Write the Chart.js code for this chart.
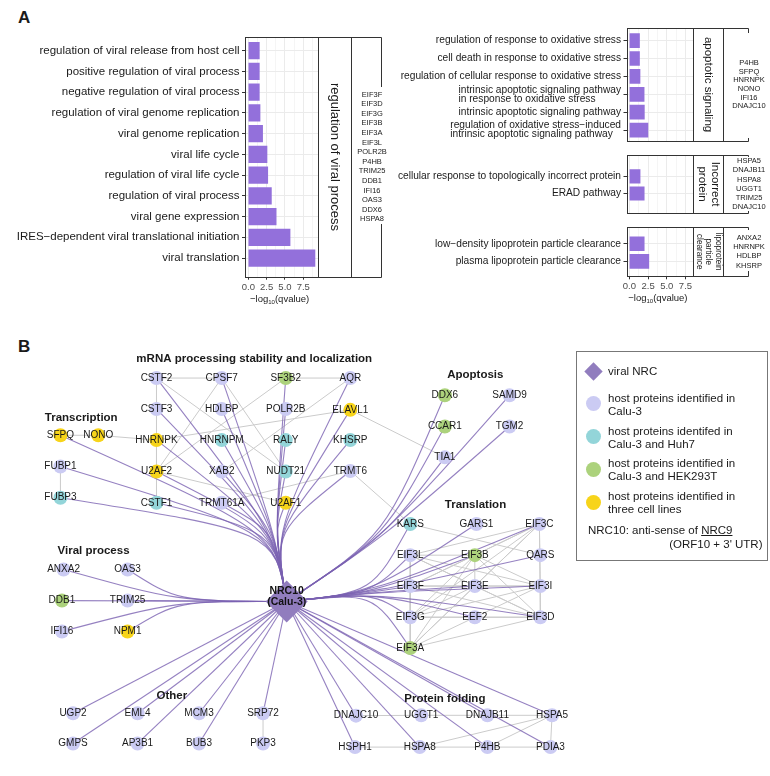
<!DOCTYPE html>
<html><head><meta charset="utf-8">
<script src="https://cdn.jsdelivr.net/npm/chart.js@4/dist/chart.umd.min.js"></script>
<style>
html,body{margin:0;padding:0;background:#fff;}
body{width:770px;height:776px;position:relative;overflow:hidden;font-family:'Liberation Sans',Arial,Helvetica,sans-serif;color:#1a1a1a;}
canvas{position:absolute;}
.plab{position:absolute;font-weight:bold;font-size:17px;line-height:17px;}
#legend{position:absolute;left:576px;top:351px;width:192px;height:210px;border:1px solid #777;box-sizing:border-box;font-size:11.5px;}
#legend .t{position:absolute;line-height:13.3px;white-space:nowrap;}
#legend .c{position:absolute;width:15px;height:15px;border-radius:50%;}
#legend .d{position:absolute;width:13px;height:13px;transform:rotate(45deg);}
</style></head>
<body>
<div class="plab" style="left:18px;top:9px">A</div>
<div class="plab" style="left:18px;top:337.5px">B</div>
<div id="legend">
  <div class="d" style="left:10px;top:13px;background:#917dbe"></div>
  <div class="t" style="left:31px;top:13px">viral NRC</div>
  <div class="c" style="left:9px;top:44px;background:#cbcbf3"></div>
  <div class="t" style="left:31px;top:39.5px">host proteins identified in<br>Calu-3</div>
  <div class="c" style="left:9px;top:77px;background:#93d5d9"></div>
  <div class="t" style="left:31px;top:72.5px">host proteins identifed in<br>Calu-3 and Huh7</div>
  <div class="c" style="left:9px;top:110px;background:#acd27c"></div>
  <div class="t" style="left:31px;top:105px">host proteins identified in<br>Calu-3 and HEK293T</div>
  <div class="c" style="left:9px;top:142.5px;background:#f7d41a"></div>
  <div class="t" style="left:31px;top:137.5px">host proteins identified in<br>three cell lines</div>
  <div class="t" style="left:11px;top:171.5px">NRC10: anti-sense of <u>NRC9</u></div>
  <div class="t" style="right:4.5px;top:186px">(ORF10 + 3' UTR)</div>
</div>
<script>
// ---------------- Panel A data ----------------
const viralTerms = ["regulation of viral release from host cell","positive regulation of viral process","negative regulation of viral process","regulation of viral genome replication","viral genome replication","viral life cycle","regulation of viral life cycle","regulation of viral process","viral gene expression","IRES\u2212dependent viral translational initiation","viral translation"];
const viralValues = [1.5,1.5,1.5,1.6,1.95,2.55,2.65,3.15,3.8,5.7,9.1];
const viralGenes = ["EIF3F","EIF3D","EIF3G","EIF3B","EIF3A","EIF3L","POLR2B","P4HB","TRIM25","DDB1","IFI16","OAS3","DDX6","HSPA8"];

const apoTerms = ["regulation of response to oxidative stress","cell death in response to oxidative stress","regulation of cellular response to oxidative stress","intrinsic apoptotic signaling pathway\nin response to oxidative stress","intrinsic apoptotic signaling pathway","regulation of oxidative stress\u2212induced\nintrinsic apoptotic signaling pathway"];
const apoValues = [1.35,1.35,1.42,1.97,2.0,2.48];
const apoGenes = ["P4HB","SFPQ","HNRNPK","NONO","IFI16","DNAJC10"];

const incTerms = ["cellular response to topologically incorrect protein","ERAD pathway"];
const incValues = [1.43,1.98];
const incGenes = ["HSPA5","DNAJB11","HSPA8","UGGT1","TRIM25","DNAJC10"];

const lipoTerms = ["low\u2212density lipoprotein particle clearance","plasma lipoprotein particle clearance"];
const lipoValues = [1.98,2.6];
const lipoGenes = ["ANXA2","HNRNPK","HDLBP","KHSRP"];

const stripLabels = ["regulation of viral process","apoptotic signaling","Incorrect\nprotein","lipoprotein\nparticle\nclearance"];
const xTickValues = [0,2.5,5,7.5];
const xMinorValues = [1.25,3.75,6.25,8.75];

// ---------------- Panel B data ----------------
const nodeNames = ["CSTF2","CPSF7","SF3B2","AQR","CSTF3","HDLBP","POLR2B","ELAVL1","HNRNPK","HNRNPM","RALY","KHSRP","U2AF2","XAB2","NUDT21","TRMT6","CSTF1","TRMT61A","U2AF1",
 "SFPQ","NONO","FUBP1","FUBP3",
 "DDX6","SAMD9","CCAR1","TGM2","TIA1",
 "KARS","GARS1","EIF3C","EIF3L","EIF3B","QARS","EIF3F","EIF3E","EIF3I","EIF3G","EEF2","EIF3D","EIF3A",
 "ANXA2","OAS3","DDB1","TRIM25","IFI16","NPM1",
 "UGP2","EML4","MCM3","SRP72","GMPS","AP3B1","BUB3","PKP3",
 "DNAJC10","UGGT1","DNAJB11","HSPA5","HSPH1","HSPA8","P4HB","PDIA3"];
// layout positions (network layout units)
const nodeX = [143.3,212.3,280,348.3,143.3,212.3,280,348.3,143.3,212.3,280,348.3,143.3,212.3,280,348.3,143.3,212.3,280,
 41.7,81.7,41.7,41.7,
 448.3,516.7,448.3,516.7,448.3,
 411.7,481.7,548.3,411.7,480,549.3,411.7,480,549.3,411.7,480,549.3,411.7,
 45,112.7,43.3,112.7,43.3,112.7,
 55,123.3,188.3,256,55,123.3,188.3,256,
 354.3,423.3,493.3,561.7,353.3,421.7,493.3,560];
const nodeY = [361,361,361,361,395,395,395,396,429.3,429.3,429.3,429.3,464,464,464,463.3,498.3,498.3,498.3,
 424,424,458.3,492.7,
 380,380,414.3,414.3,448.3,
 521.7,521.7,521.7,556,556,556,590,590,590,624.3,624.3,624.3,658.3,
 571.7,571.7,606,606,640,640,
 730,730,730,730,763.3,763.3,763.3,763.3,
 732.7,732.3,732.3,732.3,767.3,767.3,767.3,767.3];
// 1 = Calu-3, 2 = Calu-3 & Huh7, 3 = Calu-3 & HEK293T, 4 = three cell lines
const nodeCells = [1,1,3,1,1,1,1,4,4,2,2,2,4,1,2,1,2,1,4,
 4,4,1,2,
 3,1,3,1,1,
 2,1,1,1,3,1,1,1,1,1,1,1,3,
 1,1,3,1,1,4,
 1,1,1,1,1,1,1,1,
 1,1,1,1,1,1,1,1];
const nodeGroup = ["M","M","M","M","M","M","M","M","M","M","M","M","M","M","M","M","M","M","M",
 "T","T","T","T",
 "A","A","A","A","A",
 "L","L","L","L","L","L","L","L","L","L","L","L","L",
 "V","V","V","V","V","V",
 "O","O","O","O","O","O","O","O",
 "F","F","F","F","F","F","F","F"];
const nodeBound = [1,1,1,1,1,1,1,1,1,1,1,1,1,1,1,1,1,1,1,
 1,0,1,1,
 1,1,1,1,1,
 1,1,1,1,1,1,1,1,1,1,1,1,1,
 1,1,1,1,1,1,
 1,1,1,1,1,1,1,0,
 1,1,1,1,1,1,1,1];
const nrcName = ["NRC10","(Calu-3)"];
const nrcPos = [281,607];
const ppiEdges = [["CSTF2","CPSF7"],["SF3B2","AQR"],["CSTF2","CSTF3"],["CSTF3","CSTF1"],["HNRNPK","U2AF2"],
 ["CSTF2","NUDT21"],["CPSF7","NUDT21"],["CPSF7","U2AF2"],["SF3B2","U2AF2"],["AQR","XAB2"],["ELAVL1","HNRNPK"],
 ["ELAVL1","TIA1"],["SFPQ","NONO"],["NONO","HNRNPK"],["FUBP1","FUBP3"],["U2AF2","U2AF1"],["TRMT61A","TRMT6"],["TRMT6","KARS"],
 ["KARS","QARS"],["EIF3G","EEF2"],["EEF2","EIF3D"],
 ["DNAJC10","UGGT1"],["UGGT1","DNAJB11"],["DNAJB11","HSPA5"],["HSPA5","PDIA3"],["HSPH1","HSPA8"],["HSPA8","P4HB"],["P4HB","PDIA3"],["HSPA8","HSPA5"],["P4HB","HSPA5"],
 ["SRP72","PKP3"]];
const eif3Complex = ["EIF3C","EIF3L","EIF3B","EIF3F","EIF3E","EIF3I","EIF3G","EIF3D","EIF3A"];
const clusterTitles = ["mRNA processing stability and localization","Transcription","Apoptosis","Translation","Viral process","Other","Protein folding"];
const clusterTitleX = [246.7,63.7,480.5,480.7,76.7,159.5,448.3];
const clusterTitleY = [339.3,404.3,357.3,500.7,550.7,711,714.3];
const bundleHubs = {M:[268,530],T:[268,530],A:[385,535],L:[372,597],V:[165,606.5]};

// ---------------- helpers ----------------
const FONT = "'Liberation Sans', Arial, Helvetica, sans-serif";
Chart.defaults.font.family = FONT;
const BAR = '#9370DB';
const cellColors = {1:'#cbcbf3',2:'#93d5d9',3:'#acd27c',4:'#f7d41a'};

function crisp(v){return Math.round(v)+0.5;}

function makeFacet(cfg){
  const [cx,cy,cw,ch] = cfg.box;
  const [L,T,R,B] = cfg.area;
  const cv = document.createElement('canvas');
  cv.width = cw; cv.height = ch;
  cv.style.left = cx+'px'; cv.style.top = cy+'px';
  document.body.appendChild(cv);
  const gridVals = xTickValues.concat(xMinorValues).filter(v=>v<=cfg.xMax).sort((a,b)=>a-b);
  const isMajor = v => xTickValues.includes(v);
  const plugin = {
    id:'facet'+cfg.id,
    afterDraw(chart){
      const ctx = chart.ctx, a = chart.chartArea, ys = chart.scales.y;
      ctx.save();
      ctx.strokeStyle = '#333'; ctx.lineWidth = 1;
      const l = crisp(a.left), t = crisp(a.top), r = crisp(a.right), b = crisp(a.bottom);
      ctx.strokeRect(l, t, r-l, b-t);
      ctx.fillStyle = '#1a1a1a'; ctx.textBaseline = 'middle'; ctx.textAlign = 'left';
      ctx.font = cfg.labelFont+'px '+FONT;
      cfg.terms.forEach((term,i)=>{
        const lines = term.split('\n');
        const y = ys.getPixelForValue(i);
        const w = Math.max(...lines.map(s=>ctx.measureText(s).width));
        const x0 = a.left - 5.5 - w;
        lines.forEach((s,k)=>ctx.fillText(s, x0, y + (k-(lines.length-1)/2)*cfg.labelLH));
      });
      const sx = r, sw = Math.round(cfg.stripW), gx = sx+sw, gw = Math.round(cfg.geneW);
      ctx.strokeRect(sx, t, sw, b-t);
      ctx.beginPath();
      ctx.moveTo(gx, t); ctx.lineTo(gx+gw, t); ctx.lineTo(gx+gw, cfg.hide[0]-cy);
      ctx.moveTo(gx+gw, cfg.hide[1]-cy); ctx.lineTo(gx+gw, b); ctx.lineTo(gx, b);
      ctx.stroke();
      ctx.save();
      ctx.translate(sx+sw/2, (a.top+a.bottom)/2);
      ctx.rotate(Math.PI/2);
      ctx.font = cfg.stripFont+'px '+FONT; ctx.textAlign='center'; ctx.textBaseline='middle';
      const sl = cfg.strip.split('\n');
      sl.forEach((s,k)=>ctx.fillText(s, 0, (k-(sl.length-1)/2)*cfg.stripLH));
      ctx.restore();
      ctx.font = cfg.geneFont+'px '+FONT; ctx.textAlign='center';
      const gc = (a.top+a.bottom)/2;
      cfg.genes.forEach((g,k)=>ctx.fillText(g, cfg.geneX - cx, gc + (k-(cfg.genes.length-1)/2)*cfg.geneLH));
      if(cfg.showX){
        const yT = cfg.titleY - cy;
        const p1 = '\u2212log', p2 = '10', p3 = '(qvalue)';
        ctx.font = '9.5px '+FONT; const w1 = ctx.measureText(p1).width, w3 = ctx.measureText(p3).width;
        ctx.font = '6px '+FONT; const w2 = ctx.measureText(p2).width;
        let x = (a.left+a.right)/2 - (w1+w2+w3)/2 - 2;
        ctx.textAlign='left'; ctx.fillStyle='#1a1a1a';
        ctx.font = '9.5px '+FONT; ctx.fillText(p1, x, yT); x += w1;
        ctx.font = '6px '+FONT; ctx.fillText(p2, x, yT+3); x += w2;
        ctx.font = '9.5px '+FONT; ctx.fillText(p3, x, yT);
      }
      ctx.restore();
    }
  };
  return new Chart(cv, {
    type:'bar',
    data:{datasets:[{data: cfg.terms.map((t,i)=>({x:cfg.values[i], y:i})), backgroundColor:BAR, borderWidth:0, barThickness:cfg.barPx}]},
    options:{
      indexAxis:'y', responsive:false, animation:false, events:[],
      layout:{padding:{top:T-cy, right:cx+cw-R, left:0, bottom:0}},
      plugins:{legend:{display:false}, tooltip:{enabled:false}},
      scales:{
        x:{type:'linear', min:cfg.xMin, max:cfg.xMax, offset:false,
           afterBuildTicks:s=>{s.ticks = gridVals.map(v=>({value:v}));},
           afterFit:s=>{s.height = cy+ch-B;},
           border:{display:false},
           grid:{offset:false, color:'#ebebeb', lineWidth:c=>isMajor(c.tick.value)?1:0.5, drawTicks:cfg.showX, tickLength:3,
                 tickColor:c=>isMajor(c.tick.value)?'#333':'rgba(0,0,0,0)', tickWidth:1},
           ticks:{display:cfg.showX, autoSkip:false, maxRotation:0, minRotation:0, padding:1.5, color:'#4d4d4d', font:{size:9.5, family:FONT},
                  callback:v=>isMajor(v)?v.toFixed(1):''}},
        y:{type:'linear', reverse:true, min:cfg.yMin, max:cfg.yMax, offset:false,
           afterBuildTicks:s=>{s.ticks = cfg.terms.map((t,i)=>({value:i}));},
           afterFit:s=>{s.width = L-cx;},
           border:{display:false},
           grid:{offset:false, color:'#ebebeb', lineWidth:1, drawTicks:true, tickLength:3, tickColor:'#333', tickWidth:1},
           ticks:{display:true, padding:0, callback:()=>''}}
      }
    },
    plugins:[plugin]
  });
}

makeFacet({id:1, box:[0,30,395,280], area:[245,36.7,318.3,276.7], terms:viralTerms, values:viralValues, genes:viralGenes,
  strip:stripLabels[0], stripW:33.4, geneW:30.3, geneX:372, geneFont:7.5, geneLH:9.6, stripFont:13, stripLH:14,
  labelFont:11.5, labelLH:10, barPx:16.6, yMin:-0.65, yMax:10.9, xMin:-0.455, xMax:9.555, hide:[87,224], showX:true, titleY:299});
makeFacet({id:2, box:[395,20,375,128], area:[626.5,28.3,693.3,144.2], terms:apoTerms, values:apoValues, genes:apoGenes,
  strip:stripLabels[1], stripW:30, geneW:25, geneX:749, geneFont:7.5, geneLH:8.7, stripFont:11.5, stripLH:13.4,
  labelFont:10.2, labelLH:9, barPx:14, yMin:-0.69, yMax:5.6, xMin:-0.39, xMax:8.55, hide:[33,138], showX:false});
makeFacet({id:3, box:[395,148,375,72], area:[626.5,151.5,693.3,215.5], terms:incTerms, values:incValues, genes:incGenes,
  strip:stripLabels[2], stripW:30, geneW:25, geneX:749, geneFont:7.5, geneLH:9.1, stripFont:11.5, stripLH:13.4,
  labelFont:10.2, labelLH:9, barPx:13.5, yMin:-1.24, yMax:2.13, xMin:-0.39, xMax:8.55, hide:[157,211], showX:false});
makeFacet({id:4, box:[395,220,375,90], area:[626.5,225,693.3,276.3], terms:lipoTerms, values:lipoValues, genes:lipoGenes,
  strip:stripLabels[3], stripW:30, geneW:25, geneX:749, geneFont:7.5, geneLH:9.2, stripFont:8.2, stripLH:9.7,
  labelFont:10.2, labelLH:9, barPx:14, yMin:-0.94, yMax:1.85, xMin:-0.39, xMax:8.55, hide:[230,271], showX:true, titleY:298});

// ---------------- Panel B network ----------------
(function(){
  const cx=0, cy=318, cw=770, ch=458;
  const cv = document.createElement('canvas');
  cv.width=cw; cv.height=ch; cv.style.left=cx+'px'; cv.style.top=cy+'px';
  document.body.insertBefore(cv, document.getElementById('legend'));
  const idx = {}; nodeNames.forEach((n,i)=>idx[n]=i);
  const allEdges = ppiEdges.slice();
  for(let i=0;i<eif3Complex.length;i++) for(let j=i+1;j<eif3Complex.length;j++) allEdges.push([eif3Complex[i],eif3Complex[j]]);
  const datasets = [1,2,3,4].map(c=>({
    data: nodeNames.map((n,i)=>({x:nodeX[i], y:nodeY[i], c:nodeCells[i]})).filter(p=>p.c===c),
    pointRadius:7, pointBackgroundColor:cellColors[c], pointBorderWidth:0, pointStyle:'circle'
  }));
  datasets.push({data:[{x:nrcPos[0], y:nrcPos[1]}], pointRadius:21, pointStyle:'rectRot', pointBackgroundColor:'#917dbe', pointBorderWidth:0});
  const net = {
    id:'net',
    beforeDatasetsDraw(chart){
      const ctx=chart.ctx, xs=chart.scales.x, ys=chart.scales.y;
      const P = i=>[xs.getPixelForValue(nodeX[i]), ys.getPixelForValue(nodeY[i])];
      ctx.save();
      ctx.strokeStyle='#cbcbcb'; ctx.lineWidth=1;
      allEdges.forEach(([a,b])=>{const pa=P(idx[a]), pb=P(idx[b]); ctx.beginPath(); ctx.moveTo(pa[0],pa[1]); ctx.lineTo(pb[0],pb[1]); ctx.stroke();});
      const s=[xs.getPixelForValue(nrcPos[0]), ys.getPixelForValue(nrcPos[1])];
      ctx.strokeStyle='rgba(122,98,178,0.8)'; ctx.lineWidth=1.1;
      nodeNames.forEach((n,i)=>{
        if(!nodeBound[i]) return;
        const e=P(i), hub=bundleHubs[nodeGroup[i]];
        ctx.beginPath(); ctx.moveTo(s[0],s[1]);
        if(hub){const h=[xs.getPixelForValue(hub[0]), ys.getPixelForValue(hub[1])]; ctx.bezierCurveTo(h[0],h[1],h[0],h[1],e[0],e[1]);}
        else ctx.lineTo(e[0],e[1]);
        ctx.stroke();
      });
      ctx.restore();
    },
    afterDatasetsDraw(chart){
      const ctx=chart.ctx, xs=chart.scales.x, ys=chart.scales.y;
      ctx.save();
      ctx.fillStyle='#1a1a1a'; ctx.textAlign='center'; ctx.textBaseline='middle';
      ctx.font='10px '+FONT;
      nodeNames.forEach((n,i)=>ctx.fillText(n, xs.getPixelForValue(nodeX[i]), ys.getPixelForValue(nodeY[i])));
      ctx.font='bold 10.5px '+FONT; ctx.fillStyle='#111';
      ctx.fillText(nrcName[0], xs.getPixelForValue(nrcPos[0]), ys.getPixelForValue(nrcPos[1]-11.5));
      ctx.fillText(nrcName[1], xs.getPixelForValue(nrcPos[0]), ys.getPixelForValue(nrcPos[1]+1));
      ctx.font='bold 11.5px '+FONT; ctx.fillStyle='#1a1a1a';
      clusterTitles.forEach((t,i)=>ctx.fillText(t, xs.getPixelForValue(clusterTitleX[i]), ys.getPixelForValue(clusterTitleY[i])));
      ctx.restore();
    }
  };
  new Chart(cv, {
    type:'scatter',
    data:{datasets},
    options:{responsive:false, animation:false, events:[],
      layout:{padding:0},
      plugins:{legend:{display:false}, tooltip:{enabled:false}},
      scales:{x:{type:'linear', display:false, min:cx, max:cx+cw}, y:{type:'linear', display:false, reverse:true, min:cy, max:cy+ch}}},
    plugins:[net]
  });
})();
</script>
</body></html>
